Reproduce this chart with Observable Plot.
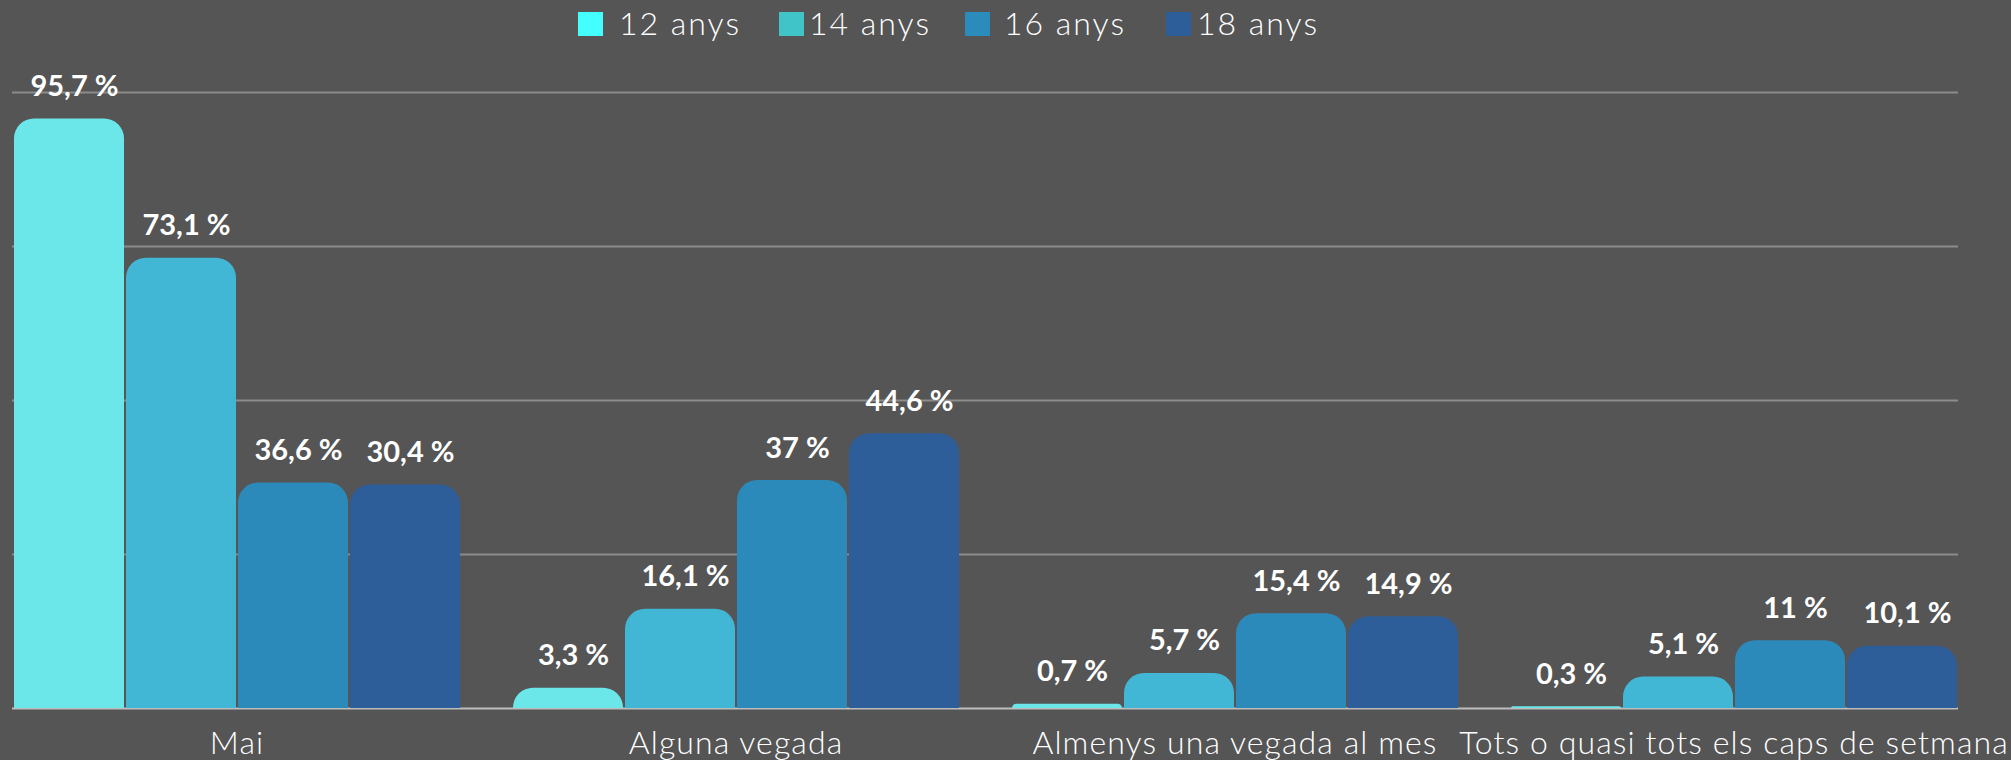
<!DOCTYPE html>
<html>
<head>
<meta charset="utf-8">
<script src="https://cdn.jsdelivr.net/npm/d3@7"></script>
<script src="https://cdn.jsdelivr.net/npm/@observablehq/plot@0.6"></script>
<style>
  html, body { margin: 0; padding: 0; background: #555555; width: 2011px; height: 760px; overflow: hidden; }
  #legend { position: relative; height: 48px; font-family: Lato, "Open Sans", sans-serif; font-weight: 300; color: #ffffff; font-size: 32px; letter-spacing: 2px; }
  #legend .sw { position: absolute; top: 12px; width: 25px; height: 24px; }
  #legend .lb { position: absolute; top: 5px; line-height: 36px; white-space: nowrap; }
  #chart svg { display: block; }
  #chart svg [aria-label="fx-axis tick label"] text { font-weight: 300; letter-spacing: 1.1px; }
</style>
</head>
<body>
<div id="legend"></div>
<div id="chart"></div>
<script>
// ---- data ----
const categories = ["Mai", "Alguna vegada", "Almenys una vegada al mes", "Tots o quasi tots els caps de setmana"];
const ages = ["12 anys", "14 anys", "16 anys", "18 anys"];
// bar heights as drawn in the picture
const values12 = [95.7, 3.3, 0.7, 0.3];
const values14 = [73.1, 16.1, 5.7, 5.1];
const values16 = [36.6, 37, 15.4, 11];
const values18 = [36.3, 44.6, 14.9, 10.1];
// value labels as printed in the picture
const labels12 = ["95,7 %", "3,3 %", "0,7 %", "0,3 %"];
const labels14 = ["73,1 %", "16,1 %", "5,7 %", "5,1 %"];
const labels16 = ["36,6 %", "37 %", "15,4 %", "11 %"];
const labels18 = ["30,4 %", "44,6 %", "14,9 %", "10,1 %"];
const yTicks = [0, 25, 50, 75, 100];

// ---- styles ----
const barColors = ["#6be7e9", "#42b7d5", "#2c8aba", "#2d5e99"];
const legendColors = ["#44ffff", "#40c4c8", "#2b8bbb", "#2d5e99"];

const series = [values12, values14, values16, values18];
const seriesLabels = [labels12, labels14, labels16, labels18];
const data = [];
categories.forEach((c, i) => {
  ages.forEach((a, j) => data.push({category: c, age: a, value: series[j][i], label: seriesLabels[j][i]}));
});

// gridlines replicated per facet (extended across the gap to the next facet)
const gridData = categories.flatMap(c => yTicks.map(t => ({category: c, tick: t})));
const lastCat = categories[categories.length - 1];
const gridInner = gridData.filter(d => d.tick > 0);
const gridBase = gridData.filter(d => d.tick === 0);

// legend (HTML, above the svg)
const legendSwatchLeft = [578, 779, 965, 1166];
const legendTextLeft = [619, 809, 1004, 1197];
const legend = document.getElementById("legend");
ages.forEach((a, j) => {
  const sw = document.createElement("div");
  sw.className = "sw";
  sw.style.left = legendSwatchLeft[j] + "px";
  sw.style.background = legendColors[j];
  legend.appendChild(sw);
  const lb = document.createElement("div");
  lb.className = "lb";
  lb.style.left = legendTextLeft[j] + "px";
  lb.textContent = a;
  legend.appendChild(lb);
});

const chart = Plot.plot({
  width: 2011,
  height: 712,
  marginLeft: 11,
  marginRight: 51,
  marginTop: 44,
  marginBottom: 52,
  style: {background: "#555555", color: "#ffffff", fontFamily: "Lato, 'Open Sans', sans-serif"},
  fx: {domain: categories, paddingInner: 0.1, paddingOuter: 0, label: null},
  x: {domain: ages, padding: 0, axis: null},
  y: {domain: [0, 100], axis: null},
  color: {domain: ages, range: barColors},
  marks: [
    Plot.ruleY(gridInner.filter(d => d.category !== lastCat), {fx: "category", y: "tick", stroke: "#8c8c8c", strokeWidth: 2, insetRight: -50}),
    Plot.ruleY(gridInner.filter(d => d.category === lastCat), {fx: "category", y: "tick", stroke: "#8c8c8c", strokeWidth: 2}),
    Plot.ruleY(gridBase.filter(d => d.category !== lastCat), {fx: "category", y: "tick", stroke: "#bdbdbd", strokeWidth: 2, insetRight: -50}),
    Plot.ruleY(gridBase.filter(d => d.category === lastCat), {fx: "category", y: "tick", stroke: "#bdbdbd", strokeWidth: 2}),
    Plot.barY(data, {fx: "category", x: "age", y: "value", fill: "age", insetLeft: 1, insetRight: 1, rx1y1: 20, rx2y1: 20}),
    Plot.text(data, {fx: "category", x: "age", y: "value", text: "label", dy: -23, dx: 5, lineAnchor: "bottom", fill: "#ffffff", fontSize: 29, fontWeight: 700}),
    Plot.axisFx({anchor: "bottom", tickSize: 0, tickPadding: 23, fontSize: 32, label: null})
  ]
});
document.getElementById("chart").appendChild(chart);
</script>
</body>
</html>
